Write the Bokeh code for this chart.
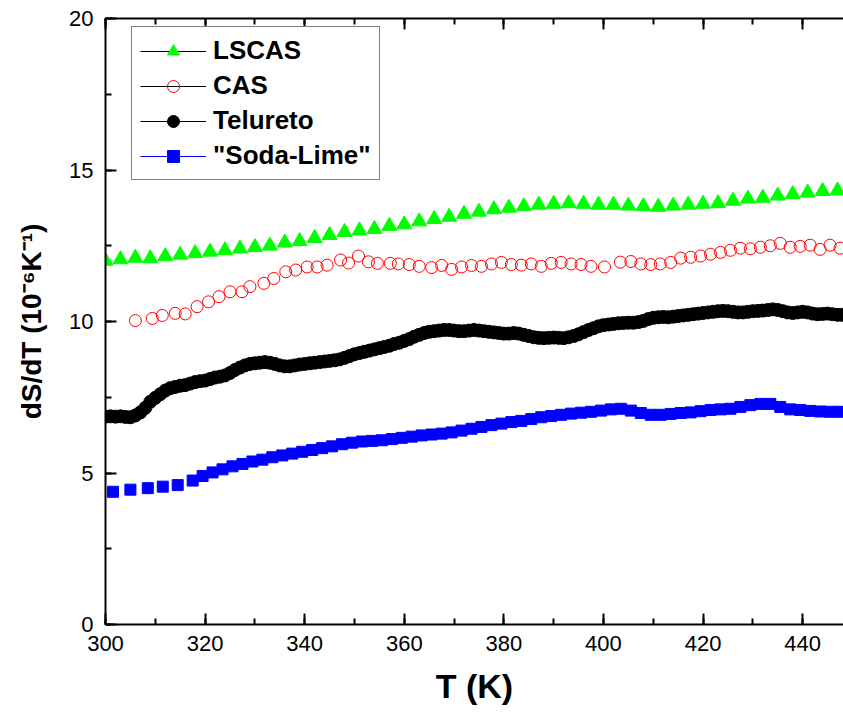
from bokeh.plotting import figure
from bokeh.models import Range1d, LinearAxis, Legend, LegendItem, FixedTicker
from bokeh.embed import file_html
from bokeh.resources import INLINE

# ---------------- data ----------------
lscas_T = [300, 303, 306, 309, 312, 315, 318, 321, 324, 327, 330, 333, 336, 339, 342, 345, 348,
           351, 354, 357, 360, 363, 366, 369, 372, 375, 378, 381, 384, 387, 390, 393, 396, 399,
           402, 405, 408, 411, 414, 417, 420, 423, 426, 429, 432, 435, 438, 441, 444, 447]
lscas_v = [12.00, 12.05, 12.10, 12.08, 12.15, 12.20, 12.25, 12.30, 12.35, 12.40, 12.45, 12.50,
           12.60, 12.65, 12.75, 12.85, 12.95, 13.00, 13.05, 13.15, 13.20, 13.30, 13.38, 13.45,
           13.55, 13.62, 13.70, 13.75, 13.80, 13.85, 13.88, 13.90, 13.88, 13.85, 13.85, 13.82,
           13.80, 13.78, 13.82, 13.85, 13.88, 13.90, 13.98, 14.05, 14.08, 14.15, 14.20, 14.25,
           14.30, 14.32]

cas_T = [306, 309.4, 311.4, 314, 316, 318.4, 320.7, 322.8, 325, 327.4, 329, 331.8, 333.8, 336.2,
         338.2, 340.5, 342.5, 344.5, 347.2, 348.8, 350.8, 352.8, 354.6, 357.2, 358.8, 361, 363,
         365.5, 367.5, 369.5, 371.5, 373.5, 375.5, 377.5, 379.5, 381.5, 383.5, 385.5, 387.5,
         389.5, 391.5, 393.5, 395.5, 397.5, 400.2, 403.4, 405.5, 407.5, 409.5, 411.4, 413.5,
         415.5, 417.5, 419.5, 421.5, 423.5, 425.5, 427.5, 429.5, 431.5, 433.5, 435.5, 437.5,
         439.5, 441.5, 443.5, 445.5, 447.5]
cas_v = [10.03, 10.10, 10.20, 10.27, 10.25, 10.49, 10.65, 10.82, 10.98, 10.98, 11.15, 11.26,
         11.42, 11.64, 11.70, 11.80, 11.80, 11.86, 12.03, 11.93, 12.16, 11.97, 11.92, 11.92,
         11.90, 11.88, 11.82, 11.78, 11.85, 11.72, 11.80, 11.85, 11.82, 11.90, 11.95, 11.88,
         11.86, 11.90, 11.82, 11.92, 11.95, 11.90, 11.88, 11.82, 11.80, 11.96, 11.98, 11.90,
         11.88, 11.90, 11.95, 12.09, 12.12, 12.16, 12.22, 12.28, 12.35, 12.42, 12.40, 12.45,
         12.50, 12.58, 12.45, 12.48, 12.52, 12.38, 12.52, 12.42]

tel_T = list(range(300, 449))
tel_v = [6.86, 6.87, 6.86, 6.87, 6.85, 6.84, 6.90, 7.00, 7.15, 7.35,
         7.48, 7.60, 7.72, 7.80, 7.84, 7.88, 7.90, 7.95, 8.00, 8.03,
         8.05, 8.10, 8.15, 8.18, 8.22, 8.30, 8.40, 8.48, 8.55, 8.60,
         8.62, 8.64, 8.66, 8.64, 8.60, 8.55, 8.52, 8.52, 8.55, 8.58,
         8.60, 8.62, 8.64, 8.66, 8.68, 8.70, 8.72, 8.75, 8.80, 8.86,
         8.92, 8.96, 9.00, 9.04, 9.08, 9.12, 9.16, 9.20, 9.26, 9.30,
         9.36, 9.42, 9.50, 9.56, 9.62, 9.66, 9.68, 9.70, 9.72, 9.72,
         9.70, 9.68, 9.68, 9.70, 9.72, 9.70, 9.68, 9.66, 9.64, 9.62,
         9.60, 9.60, 9.62, 9.60, 9.56, 9.52, 9.48, 9.46, 9.45, 9.46,
         9.47, 9.46, 9.45, 9.48, 9.52, 9.58, 9.65, 9.72, 9.78, 9.84,
         9.88, 9.90, 9.92, 9.94, 9.95, 9.96, 9.96, 9.98, 10.02, 10.08,
         10.12, 10.14, 10.15, 10.14, 10.16, 10.18, 10.20, 10.22, 10.24, 10.26,
         10.28, 10.30, 10.32, 10.34, 10.35, 10.34, 10.32, 10.30, 10.30, 10.32,
         10.34, 10.35, 10.36, 10.38, 10.40, 10.38, 10.34, 10.30, 10.28, 10.30,
         10.32, 10.30, 10.26, 10.24, 10.25, 10.26, 10.24, 10.22, 10.22]

soda_T = [301.5, 305, 308.5, 311.5, 314.5, 317.5, 319.5, 321.5, 323.5, 325.5, 327.5, 329.5,
          331.5, 333.5, 335.5, 337.5, 339.5, 341.5, 343.5, 345.5, 347.5, 349.5, 351.5, 353.5,
          355.5, 357.5, 359.5, 361.5, 363.5, 365.5, 367.5, 369.5, 371.5, 373.5, 375.5, 377.5,
          379.5, 381.5, 383.5, 385.5, 387.5, 389.5, 391.5, 393.5, 395.5, 397.5, 399.5, 401.5,
          403.5, 405.5, 407.5, 409.5, 411.5, 413.5, 415.5, 417.5, 419.5, 421.5, 423.5, 425.5,
          427.5, 429.5, 431.5, 433.5, 435.5, 437.5, 439.5, 441.5, 443.5, 445.5, 447.5]
soda_v = [4.38, 4.45, 4.50, 4.55, 4.60, 4.75, 4.90, 5.02, 5.12, 5.22, 5.30, 5.38,
          5.44, 5.52, 5.58, 5.64, 5.70, 5.76, 5.82, 5.88, 5.95, 6.00, 6.04, 6.06,
          6.08, 6.12, 6.16, 6.20, 6.24, 6.27, 6.30, 6.34, 6.40, 6.46, 6.52, 6.58,
          6.63, 6.68, 6.72, 6.78, 6.84, 6.88, 6.92, 6.96, 6.99, 7.02, 7.06, 7.10,
          7.12, 7.06, 6.98, 6.92, 6.92, 6.95, 6.98, 7.00, 7.04, 7.08, 7.10, 7.12,
          7.18, 7.24, 7.28, 7.28, 7.18, 7.10, 7.08, 7.05, 7.03, 7.02, 7.02]

x_ticks = [300, 320, 340, 360, 380, 400, 420, 440]
x_minor = [300, 310, 320, 330, 340, 350, 360, 370, 380, 390, 400, 410, 420, 430, 440]
y_ticks = [0, 5, 10, 15, 20]
y_minor = [0, 2.5, 5, 7.5, 10, 12.5, 15, 17.5, 20]

FONT = "Liberation Sans"
NAN = float("nan")

p = figure(frame_width=738, frame_height=606,
           x_range=Range1d(300, 448.2), y_range=Range1d(0, 20),
           output_backend="svg", toolbar_location=None,
           min_border_left=105, min_border_right=0, min_border_top=18, min_border_bottom=89,
           x_axis_label="T (K)", y_axis_label="dS/dT (10\u207b\u2076K\u207b\u00b9)")
p.outline_line_color = None
p.xgrid.visible = False
p.ygrid.visible = False
p.background_fill_color = "white"
p.border_fill_color = "white"

bottom = p.below[0]
left = p.left[0]

# mirrored top axis: ticks only
top = LinearAxis(ticker=FixedTicker(ticks=x_ticks, minor_ticks=x_minor),
                 major_label_text_font_size="0px")
p.add_layout(top, "above")

for ax in [bottom, left, top]:
    ax.axis_line_width = 2
    ax.axis_line_color = "black"
    ax.major_tick_in = 11
    ax.major_tick_out = 0
    ax.minor_tick_in = 6
    ax.minor_tick_out = 0
    ax.major_tick_line_width = 2
    ax.minor_tick_line_width = 2
    ax.major_tick_line_color = "black"
    ax.minor_tick_line_color = "black"
    ax.axis_label_text_font = FONT
    ax.axis_label_text_font_style = "bold"
    ax.axis_label_text_color = "black"

for ax in [bottom, left]:
    ax.major_label_text_font = FONT
    ax.major_label_text_font_size = "22px"
    ax.major_label_text_color = "black"

bottom.ticker = FixedTicker(ticks=x_ticks, minor_ticks=x_minor)
left.ticker = FixedTicker(ticks=y_ticks, minor_ticks=y_minor)
bottom.major_label_standoff = 11
left.major_label_standoff = 12
top.major_label_standoff = 11
bottom.axis_label_text_font_size = "34px"
left.axis_label_text_font_size = "28px"
bottom.axis_label_standoff = 13
left.axis_label_standoff = 19

# series
r_l = p.scatter(lscas_T, lscas_v, marker="triangle", size=15, fill_color="#00ff00",
                line_color="#00ff00")
r_c = p.scatter(cas_T, cas_v, marker="circle", size=12, fill_color=None,
                line_color="#ff0000", line_width=1)
r_t = p.scatter(tel_T, tel_v, marker="circle", size=13, fill_color="black", line_color="black")
r_s = p.scatter(soda_T, soda_v, marker="square", size=11, fill_color="#0000ff",
                line_color="#0000ff")

# legend line pieces (a single NaN point: nothing drawn in the plot)
l_l = p.line(x=[NAN], y=[NAN], line_color="black", line_width=1)
l_c = p.line(x=[NAN], y=[NAN], line_color="black", line_width=1)
l_t = p.line(x=[NAN], y=[NAN], line_color="black", line_width=1)
l_s = p.line(x=[NAN], y=[NAN], line_color="#0000ff", line_width=1)

legend = Legend(items=[
    LegendItem(label="LSCAS", renderers=[l_l, r_l]),
    LegendItem(label="CAS", renderers=[l_c, r_c]),
    LegendItem(label="Telureto", renderers=[l_t, r_t]),
    LegendItem(label='"Soda-Lime"', renderers=[l_s, r_s]),
], location=(26, 444))
legend.label_text_font = FONT
legend.label_text_font_style = "bold"
legend.label_text_font_size = "26px"
legend.label_text_color = "black"
legend.glyph_width = 66
legend.glyph_height = 30
legend.label_height = 30
legend.label_standoff = 7
legend.spacing = 4
legend.padding = 8
legend.margin = 0
legend.border_line_color = "black"
legend.border_line_width = 1
legend.background_fill_alpha = 1
p.add_layout(legend, "center")

open("out.html", "w").write(file_html(p, INLINE))
